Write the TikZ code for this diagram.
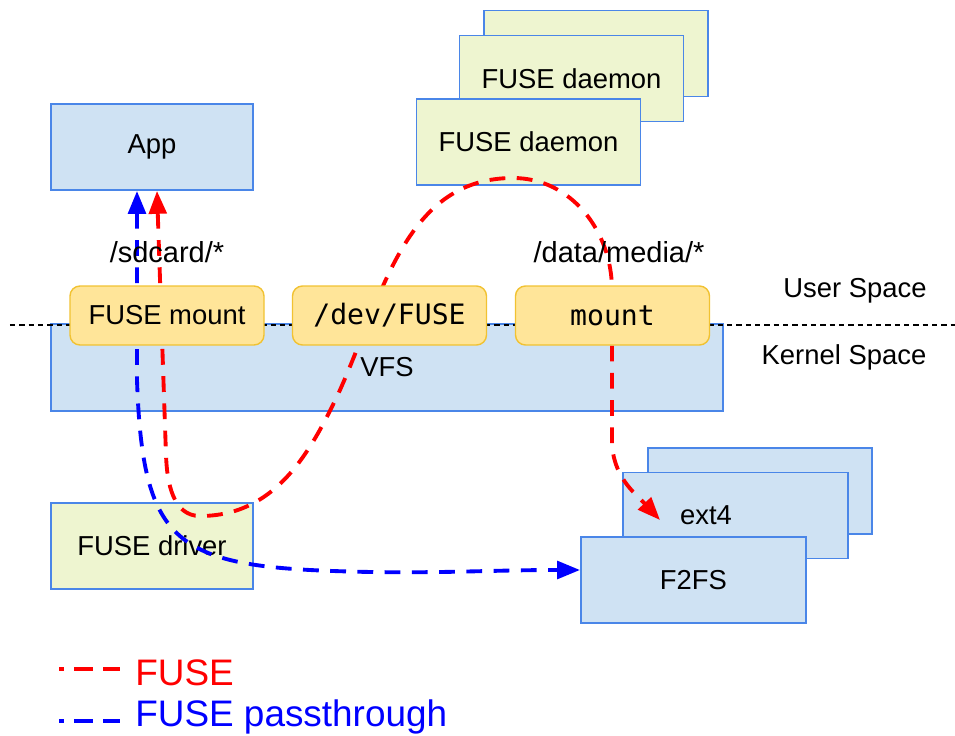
\documentclass[tikz,border=0pt]{standalone}
\usepackage{fontspec}
\setmainfont{Liberation Sans}
\newfontfamily\monofont{DejaVu Sans Mono}
\usetikzlibrary{arrows.meta}
\definecolor{boxblue}{HTML}{CFE2F3}
\definecolor{edgeblue}{HTML}{4A86E8}
\definecolor{boxgreen}{HTML}{EEF5D0}
\definecolor{boxyellow}{HTML}{FFE599}
\definecolor{edgeyellow}{HTML}{F1C232}

\begin{document}
\begin{tikzpicture}[
        bluebox/.style={draw=edgeblue,line width=1.1pt,fill=boxblue,minimum width=4.04cm,minimum height=1.72cm,inner sep=0pt,font=\fontsize{15.6}{18}\selectfont},
        greenbox/.style={bluebox,fill=boxgreen},
        mountbox/.style={draw=edgeyellow,line width=0.8pt,fill=boxyellow,rounded corners=0.2cm,minimum width=3.88cm,minimum height=1.18cm,inner sep=0pt,font=\fontsize{15.6}{18}\selectfont},
        tip/.style={Triangle[length=13pt,width=10pt]},
        fusepath/.style={red,line width=2.2pt,dash pattern=on 9pt off 6.5pt,{Triangle[length=13pt,width=10pt]}-{Triangle[length=13pt,width=10pt]}},
        passpath/.style={fusepath,blue},
        pathlabel/.style={font=\fontsize{16.5}{19}\selectfont,inner sep=0pt},
        spacelabel/.style={font=\fontsize{15.6}{18}\selectfont,inner sep=0pt}
    ]
        \useasboundingbox (0,0) rectangle (19.1,-14.72);

        \node[bluebox] (app) at (3.04,-2.94) {App};
        \node[greenbox,minimum width=4.48cm] (daemonC) at (11.92,-1.07) {};
        \node[greenbox,minimum width=4.48cm] (daemonB) at (11.43,-1.57) {FUSE daemon};
        \node[greenbox,minimum width=4.48cm] (daemonA) at (10.57,-2.84) {FUSE daemon};
        \node[bluebox,minimum width=13.44cm,minimum height=1.74cm] (vfs) at (7.74,-7.35) {VFS};
        \node[greenbox] (driver) at (3.04,-10.92) {FUSE driver};
        \node[bluebox,minimum width=4.48cm] (fsC) at (15.2,-9.82) {};
        \node[bluebox,minimum width=4.5cm,label={[xshift=-0.59cm,font=\fontsize{15.6}{18}\selectfont]center:ext4}] (fsB) at (14.71,-10.31) {};
        \node[bluebox,minimum width=4.5cm] (ftfs) at (13.87,-11.6) {F2FS};

        \coordinate (sepL) at (0.2,-6.5);
        \coordinate (sepR) at (19.1,-6.5);
        \draw[line width=0.6pt,dash pattern=on 3pt off 2.3pt] (sepL) -- (sepR);

        \draw[passpath] ([xshift=-0.3cm]app.south) -- (2.74,-7.6) to [out=-88,in=178,looseness=1.5] (6.66,-11.42) to [out=-2,in=180] ([yshift=0.2cm]ftfs.west);
        \draw[fusepath] ([xshift=0.1cm]app.south) -- (3.32,-9.1) to [out=-88,in=180] (4.0,-10.32) to [out=0,in=-115] (6.8,-7.8) to [out=66,in=180] (10.26,-3.56) to [out=0,in=90] (12.24,-5.8) -- (12.24,-8.8) to [out=-90,in=133] (13.2,-10.4);

        \node[mountbox] (fmount) at (3.34,-6.31) {FUSE mount};
        \node[mountbox,font=\monofont\fontsize{16}{18}\selectfont] (devfuse) at (7.79,-6.31) {/dev/FUSE};
        \node[mountbox,font=\monofont\fontsize{16}{18}\selectfont] (mnt) at (12.25,-6.31) {mount};

        \node[pathlabel] (sdcard) at (3.34,-5.04) {/sdcard/*};
        \node[pathlabel] (media) at (12.38,-5.04) {/data/media/*};
        \node[spacelabel] (user) at (17.1,-5.82) {User Space};
        \node[spacelabel] (kernel) at (16.88,-7.14) {Kernel Space};

        \node[anchor=base west,inner sep=0pt,red,font=\fontsize{21}{24}\selectfont] (legfuse) at (2.7,-13.7) {FUSE};
        \node[anchor=base west,inner sep=0pt,blue,font=\fontsize{21}{24}\selectfont] (legpass) at (2.7,-14.52) {FUSE passthrough};
        \draw[red,line width=2.2pt,dash pattern=on 3pt off 5.7pt on 10.8pt off 5.7pt on 10pt off 20pt] (1.18,-13.38) -- (2.4,-13.38);
        \draw[blue,line width=2.2pt,dash pattern=on 3pt off 5.7pt on 10.8pt off 5.7pt on 10pt off 20pt] (1.18,-14.42) -- (2.4,-14.42);
    \end{tikzpicture}
\end{document}
